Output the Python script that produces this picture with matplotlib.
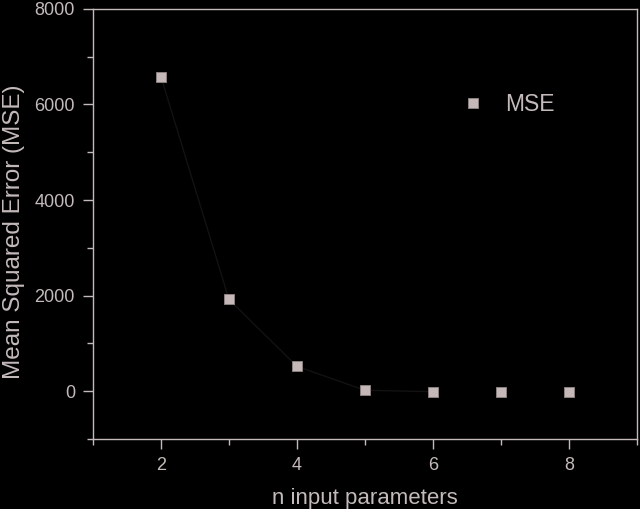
import numpy as np
import matplotlib.pyplot as plt
from matplotlib.ticker import MultipleLocator

n_params = [2, 3, 4, 5, 6, 7, 8]
mse = [6580, 1920, 520, 20, -10, -10, -10]

fg = '#c4baba'
plt.rcParams['font.family'] = ['Liberation Sans', 'DejaVu Sans']

fig = plt.figure(figsize=(6.4, 5.09), dpi=100, facecolor='black')
ax = fig.add_axes([0.1453, 0.1375, 0.85, 0.845], facecolor='black')

ax.plot(n_params[:5], mse[:5], color='#121212', lw=1.0, zorder=2)
ax.plot(n_params, mse, ls='none', marker='s', ms=7.3, mfc='#c4b8b8', mec='#8a8080',
        mew=0.7, label='MSE', zorder=3)

ax.set_xlim(1, 9)
ax.set_ylim(-1000, 8000)
ax.xaxis.set_major_locator(MultipleLocator(2))
ax.xaxis.set_minor_locator(MultipleLocator(1))
ax.yaxis.set_major_locator(MultipleLocator(2000))
ax.yaxis.set_minor_locator(MultipleLocator(1000))

for s in ax.spines.values():
    s.set_color(fg)
    s.set_linewidth(1.0)
ax.tick_params(which='major', direction='out', length=7, width=1, color=fg,
               labelcolor=fg, labelsize=13, pad=6)
ax.tick_params(which='minor', direction='out', length=4, width=1, color=fg)

ax.set_xlabel('n input parameters', color=fg, fontsize=16, labelpad=10)
ax.set_ylabel('Mean Squared Error (MSE)', color=fg, fontsize=17.5)
ax.yaxis.set_label_coords(-0.125, 0.481)

leg = ax.legend(loc='upper right', bbox_to_anchor=(0.886, 0.853), frameon=False,
                fontsize=16.5, handlelength=2.0, handletextpad=0.4, markerscale=0.95)
for t in leg.get_texts():
    t.set_color(fg)

fig.savefig('out.png', dpi=100, facecolor='black')
